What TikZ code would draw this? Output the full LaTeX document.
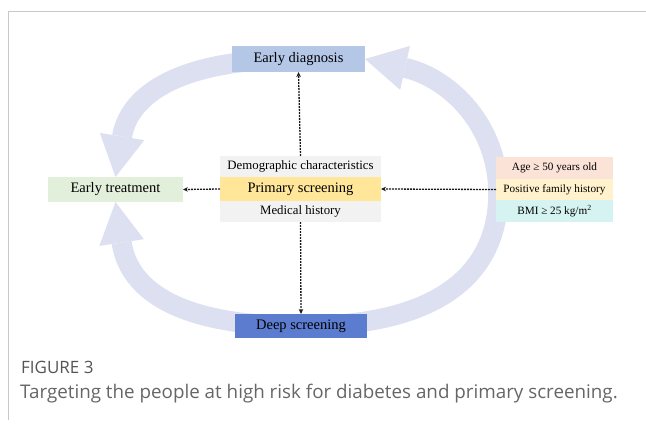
\documentclass[tikz,border=0pt]{standalone}
\usepackage{fontspec}
\setmainfont{Liberation Serif}
\newfontfamily\capfont{Open Sans}
\usetikzlibrary{arrows.meta}
\definecolor{bandc}{HTML}{DCE0F0}
\definecolor{edc}{HTML}{B4C7E7}
\definecolor{etc}{HTML}{E2EFDA}
\definecolor{greyc}{HTML}{F2F2F2}
\definecolor{psc}{HTML}{FFE699}
\definecolor{agec}{HTML}{FBE3D8}
\definecolor{posc}{HTML}{FFF2CC}
\definecolor{bmic}{HTML}{D5F3F1}
\definecolor{dsc}{HTML}{5C7CCF}
\definecolor{framec}{HTML}{C8C8C8}
\definecolor{capc}{HTML}{666666}
\definecolor{figc}{HTML}{555555}
\pgfdeclarelayer{bg}
\pgfsetlayers{bg,main}
\begin{document}
\begin{tikzpicture}[x=1pt,y=-1pt,
  box/.style={inner sep=0pt, outer sep=0pt, text=black},
  mainlab/.style={box, font=\fontsize{14.5}{16}\selectfont},
  sublab/.style={box, font=\fontsize{12.8}{14}\selectfont},
  risklab/.style={box, font=\fontsize{11.2}{13}\selectfont, minimum width=117},
  dotarrow/.style={line width=1.3pt, dash pattern=on 1.8pt off 1.2pt, black!90,
    -{Stealth[length=5pt,width=4.5pt]}},
  band/.style={line width=20pt, draw=bandc,
    -{Triangle[length=41pt,width=45pt,line width=0pt,fill=bandc]}},
  bandplain/.style={line width=20pt, draw=bandc}
]
\useasboundingbox (0,0) rectangle (646,426);
\draw[framec, line width=0.8pt] (8.5,420) -- (8.5,11.5) -- (646,11.5);

% main nodes
\node[mainlab, fill=edc, minimum width=133, minimum height=26] (ed) at (298.5,59) {Early diagnosis};
\node[mainlab, fill=etc, minimum width=135, minimum height=25] (et) at (115.5,189.5) {Early treatment};
\node[sublab, fill=greyc, minimum width=161, minimum height=21] (dem) at (300.5,166.5) {Demographic characteristics};
\node[mainlab, fill=psc, minimum width=161, minimum height=24] (ps) at (300.5,189) {Primary screening};
\node[sublab, fill=greyc, minimum width=161, minimum height=21] (mh) at (300.5,211.5) {Medical history};
\node[risklab, fill=agec, minimum height=22] (age) at (554.5,168) {Age ≥ 50 years old};
\node[risklab, fill=posc, minimum height=21] (pos) at (554.5,189.5) {Positive family history};
\node[risklab, fill=bmic, minimum height=22] (bmi) at (554.5,211) {BMI ≥ 25 kg/m\textsuperscript{2}};
\node[mainlab, fill=dsc, minimum width=132, minimum height=24] (ds) at (301,326) {Deep screening};

% dotted connectors
\draw[dotarrow] (ps.west) -- (et.east);
\draw[dotarrow] (pos.west) -- (ps.east);
\draw[dotarrow] (dem.north) -- (ed.south);
\draw[dotarrow] (mh.south) -- (ds.north);

% big cycle arrows
\begin{pgfonlayer}{bg}
\draw[band] (ed.center) .. controls (170,59) and (128,100) .. (et.north);
\draw[band] (ds.center) .. controls (170,326) and (128,285) .. (et.south);
\coordinate (rmid) at (498,185);
\draw[bandplain] (ds.center) .. controls (450,326) and (502,265) .. (rmid);
\draw[band] (rmid) .. controls (494,120) and (446,77) .. (ed.east);
\end{pgfonlayer}

% caption
\node[anchor=base west, inner sep=0pt, font=\capfont\fontsize{17}{19}\selectfont, text=figc] (fig) at (21,373) {FIGURE 3};
\node[anchor=base west, inner sep=0pt, font=\capfont\fontsize{18.8}{21}\selectfont, text=capc] (cap) at (20,398) {Targeting the people at high risk for diabetes and primary screening.};
\end{tikzpicture}
\end{document}
